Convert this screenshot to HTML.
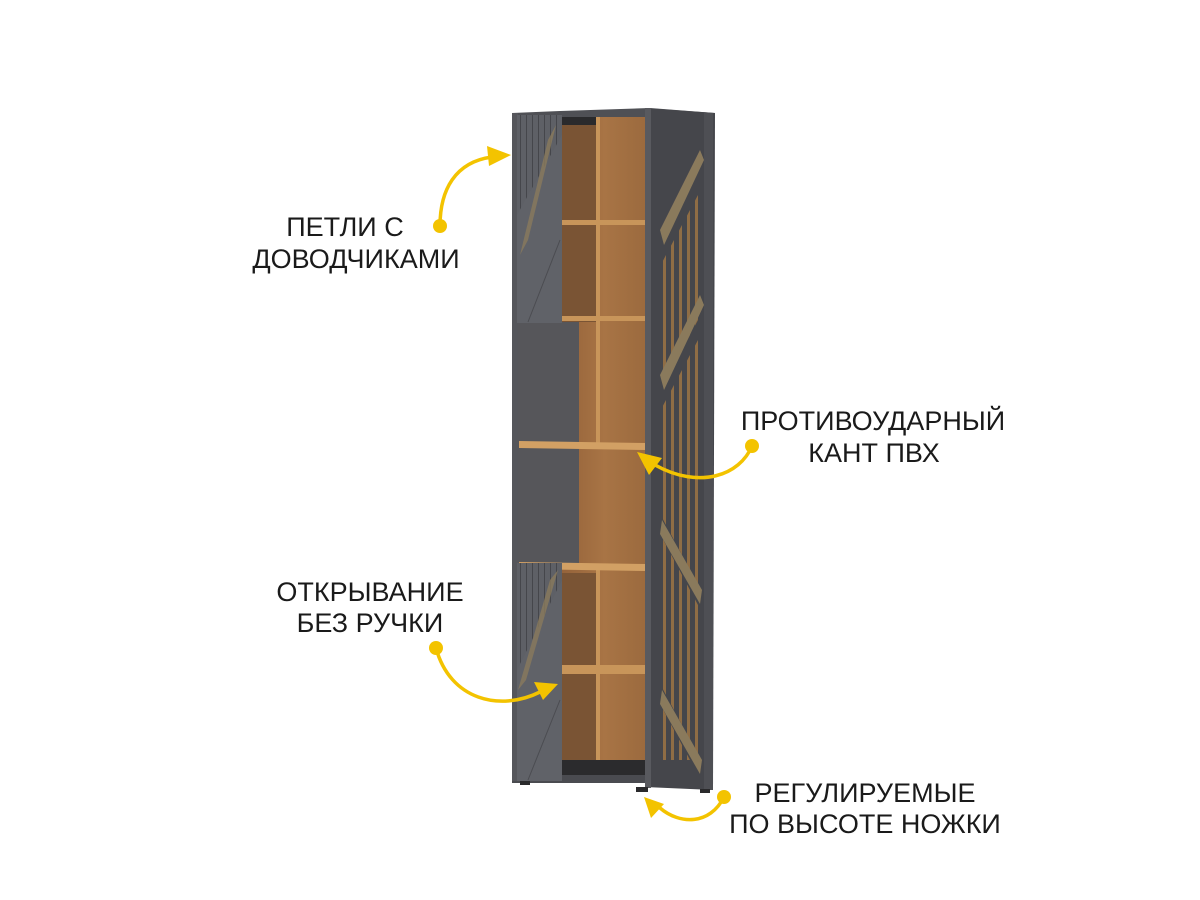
<!DOCTYPE html>
<html><head><meta charset="utf-8"><style>
html,body{margin:0;padding:0;background:#fff;}
svg{display:block;}
text{font-family:"Liberation Sans",sans-serif;font-size:27px;fill:#1a1a1a;}
</style></head><body>
<svg width="1200" height="900" viewBox="0 0 1200 900" xmlns="http://www.w3.org/2000/svg">
<defs>
<linearGradient id="wood" x1="0" y1="0" x2="1" y2="0">
<stop offset="0" stop-color="#95633a"/><stop offset="0.5" stop-color="#a87445"/><stop offset="1" stop-color="#9b6a3e"/>
</linearGradient>
<pattern id="door" width="6" height="10" patternUnits="userSpaceOnUse">
<rect width="6" height="10" fill="#5e6066"/><rect x="4" width="1" height="10" fill="#45464b"/>
</pattern>
</defs>

<polygon points="512,113 560,111 650,108 715,113 712,117 512,117" fill="#4f5055"/>
<rect x="562" y="117" width="85" height="660" fill="url(#wood)"/>
<rect x="517" y="322" width="62" height="243" fill="#56565a"/>
<rect x="562" y="117" width="36" height="205" fill="#7a5434"/>
<rect x="562" y="117" width="36" height="8" fill="#2a2a2c"/>
<rect x="562" y="573" width="36" height="200" fill="#7a5434"/>
<rect x="596" y="117" width="4" height="330" fill="#c8955a"/>
<rect x="596" y="565" width="4" height="210" fill="#c8955a"/>
<rect x="562" y="220" width="85" height="5" fill="#c8955a"/>
<rect x="562" y="316" width="85" height="5" fill="#c8955a"/>
<polygon points="519,441 647,443 647,450 519,448" fill="#d2a064"/>
<polygon points="519,562 647,564 647,571 519,569" fill="#d2a064"/>
<rect x="562" y="665" width="85" height="9" fill="#c8955a"/>
<rect x="562" y="760" width="85" height="18" fill="#2b2b2d"/>
<rect x="512" y="775" width="135" height="8" fill="#4a4b50"/>
<rect x="512" y="113" width="6" height="668" fill="#55565b"/>
<rect x="517" y="115" width="45" height="208" fill="#606268"/>
<polygon points="517,115 562,115 562,135 517,215" fill="url(#door)"/>
<polygon points="548,140 556,125 528,240 520,255" fill="#8a7a5c" opacity="0.8"/>
<line x1="528" y1="322" x2="560" y2="240" stroke="#4b4c51" stroke-width="1"/>
<rect x="517" y="563" width="45" height="218" fill="#606268"/>
<polygon points="517,563 562,563 562,580 517,670" fill="url(#door)"/>
<polygon points="550,580 558,570 526,680 518,690" fill="#8a7a5c" opacity="0.8"/>
<line x1="528" y1="780" x2="560" y2="700" stroke="#4b4c51" stroke-width="1"/>
<!-- right side panel -->
<polygon points="645,108 715,113 713,790 645,787" fill="#45464b"/>
<rect x="645" y="108" width="6" height="680" fill="#595a5f"/>
<g fill="#8f6d45">
<rect x="663" y="250" width="3" height="510"/><rect x="671" y="235" width="3" height="525"/>
<rect x="679" y="220" width="3" height="540"/><rect x="687" y="205" width="3" height="555"/>
<rect x="695" y="190" width="3" height="570"/>
</g>
<g fill="#45464b">
<polygon points="658,250 706,160 706,180 658,270"/>
<polygon points="658,395 706,305 706,325 658,415"/>
<polygon points="658,510 706,600 706,620 658,530"/>
<polygon points="658,680 706,770 706,790 658,700"/>
</g>
<g fill="#8a7a5c">
<polygon points="660,230 700,150 704,160 664,245"/>
<polygon points="660,375 700,295 704,305 664,390"/>
<polygon points="662,520 702,590 700,604 660,534"/>
<polygon points="662,690 702,760 700,774 660,704"/>
</g>
<rect x="704" y="113" width="9" height="677" fill="#4e4f54"/>
<rect x="520" y="781" width="10" height="4" fill="#2a2a2c"/>
<rect x="636" y="787" width="12" height="5" fill="#2a2a2c"/>
<rect x="700" y="789" width="10" height="4" fill="#2a2a2c"/>

<g fill="none" stroke="#f3c300" stroke-width="3.5" stroke-linecap="round">
<path d="M440,226 C440,190 455,162 492,157"/>
<path d="M752,446 C740,475 700,490 655,465"/>
<path d="M436,648 C450,700 500,712 540,692"/>
<path d="M724,797 C710,825 680,825 660,808"/>
</g>
<g fill="#f3c300">
<circle cx="440" cy="226" r="7"/>
<polygon points="511,155 487,146 489,166"/>
<circle cx="752" cy="446" r="7"/>
<polygon points="637,452 649,475 662,458"/>
<circle cx="436" cy="648" r="7"/>
<polygon points="558,684 534,682 543,700"/>
<circle cx="724" cy="797" r="7"/>
<polygon points="644,797 651,818 664,804"/>
</g>

<text x="345" y="236" text-anchor="middle">ПЕТЛИ С</text>
<text x="356" y="268" text-anchor="middle">ДОВОДЧИКАМИ</text>
<text x="873" y="430" text-anchor="middle">ПРОТИВОУДАРНЫЙ</text>
<text x="874" y="462" text-anchor="middle">КАНТ ПВХ</text>
<text x="370" y="601" text-anchor="middle">ОТКРЫВАНИЕ</text>
<text x="370" y="632" text-anchor="middle">БЕЗ РУЧКИ</text>
<text x="865" y="802" text-anchor="middle">РЕГУЛИРУЕМЫЕ</text>
<text x="865" y="833" text-anchor="middle">ПО ВЫСОТЕ НОЖКИ</text>
</svg>
</body></html>
